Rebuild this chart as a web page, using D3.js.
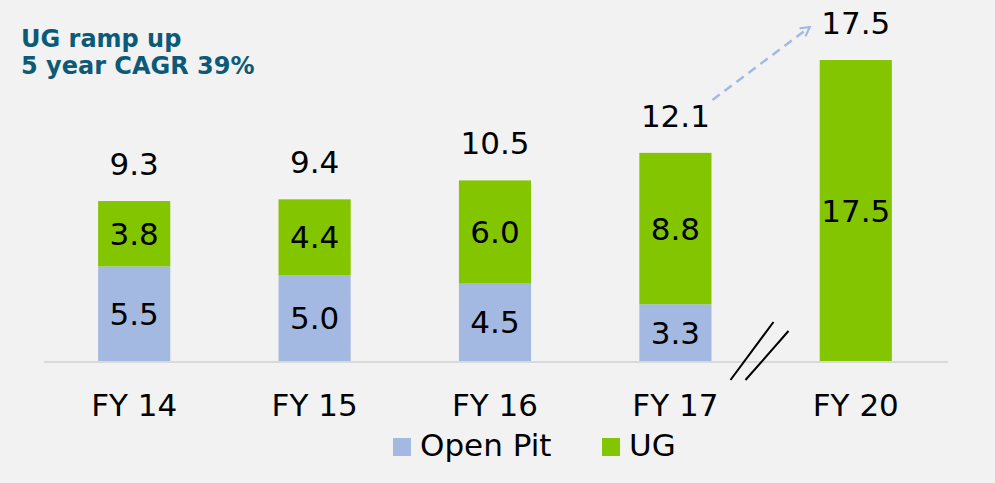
<!DOCTYPE html>
<html>
<head>
<meta charset="utf-8">
<script src="https://cdn.jsdelivr.net/npm/d3@7"></script>
<style>
  body { margin: 0; background: #f2f2f2; }
  svg { display: block; font-family: "DejaVu Sans", Verdana, sans-serif; }
</style>
</head>
<body>
<div id="chart"></div>
<script>
var categories = ["FY 14", "FY 15", "FY 16", "FY 17", "FY 20"];
var openPit = [5.5, 5.0, 4.5, 3.3, 0];
var ug = [3.8, 4.4, 6.0, 8.8, 17.5];
var totals = [9.3, 9.4, 10.5, 12.1, 17.5];
var seriesNames = ["Open Pit", "UG"];
var colors = ["#a4b9e1", "#83c600"];

var svgWidth = 995, svgHeight = 483;
var margin = { top: 60, right: 49, bottom: 122, left: 44 };
var width = svgWidth - margin.left - margin.right;
var height = svgHeight - margin.top - margin.bottom;

var svg = d3.select("#chart").append("svg")
  .attr("width", svgWidth)
  .attr("height", svgHeight);

svg.append("rect").attr("width", svgWidth).attr("height", svgHeight).attr("fill", "#f2f2f2");

var chartGroup = svg.append("g")
  .attr("transform", `translate(${margin.left}, ${margin.top})`);

var x = d3.scaleBand().domain(categories).range([0, width]).paddingInner(0.6).paddingOuter(0.3);
var y = d3.scaleLinear().domain([0, 17.5]).range([height, 0]);

var data = categories.map(function(c, i) {
  return { cat: c, openPit: openPit[i], ug: ug[i], total: totals[i] };
});

var stack = d3.stack().keys(["openPit", "ug"])(data);

// bars
stack.forEach(function(layer, li) {
  chartGroup.selectAll(".bar" + li)
    .data(layer)
    .enter()
    .append("rect")
    .attr("x", d => x(d.data.cat))
    .attr("y", d => y(d[1]))
    .attr("width", x.bandwidth())
    .attr("height", d => y(d[0]) - y(d[1]))
    .attr("fill", colors[li]);

  // segment labels
  chartGroup.selectAll(".lab" + li)
    .data(layer.filter(d => d[1] - d[0] > 0))
    .enter()
    .append("text")
    .attr("x", d => x(d.data.cat) + x.bandwidth() / 2)
    .attr("y", d => (y(d[0]) + y(d[1])) / 2)
    .attr("dy", "0.36em")
    .attr("text-anchor", "middle")
    .attr("font-size", "31px")
    .attr("fill", "#000")
    .text(d => (d[1] - d[0]).toFixed(1));
});

// total labels
chartGroup.selectAll(".total")
  .data(data)
  .enter()
  .append("text")
  .attr("x", d => x(d.cat) + x.bandwidth() / 2)
  .attr("y", d => y(d.total) - 26)
  .attr("text-anchor", "middle")
  .attr("font-size", "31px")
  .attr("fill", "#000")
  .text(d => d.total.toFixed(1));

// baseline
chartGroup.append("line")
  .attr("x1", 0).attr("x2", width + 2)
  .attr("y1", height + 1).attr("y2", height + 1)
  .attr("stroke", "#d9d9d9")
  .attr("stroke-width", 2);

// category axis
var bottomAxis = d3.axisBottom(x).tickSize(0).tickPadding(33);
var xAxis = chartGroup.append("g")
  .attr("transform", `translate(0, ${height})`)
  .call(bottomAxis);
xAxis.select(".domain").remove();
xAxis.selectAll("text")
  .attr("font-size", "31px")
  .attr("font-family", "DejaVu Sans, Verdana, sans-serif")
  .attr("fill", "#000");

// axis break marks
var bx = x("FY 17") + x.bandwidth() + 46;
[0, 15].forEach(function(off) {
  chartGroup.append("line")
    .attr("x1", bx - 27 + off).attr("y1", height + 19)
    .attr("x2", bx + 16 + off).attr("y2", height - 39 + off * 0.6)
    .attr("stroke", "#000")
    .attr("stroke-width", 2);
});

// dashed growth arrow
svg.append("defs").append("marker")
  .attr("id", "arrow")
  .attr("viewBox", "0 0 12 12")
  .attr("refX", 10).attr("refY", 6)
  .attr("markerWidth", 12).attr("markerHeight", 12)
  .attr("markerUnits", "userSpaceOnUse")
  .attr("orient", "auto")
  .append("path")
  .attr("d", "M1,1 L10,6 L1,11")
  .attr("fill", "none")
  .attr("stroke", "#a4b9e1")
  .attr("stroke-width", 2.2);

chartGroup.append("line")
  .attr("x1", x("FY 17") + x.bandwidth() + 1)
  .attr("y1", y(totals[3]) - 53)
  .attr("x2", x("FY 20") - 10)
  .attr("y2", y(totals[4]) - 33)
  .attr("stroke", "#a4b9e1")
  .attr("stroke-width", 2.5)
  .attr("stroke-dasharray", "9,6")
  .attr("marker-end", "url(#arrow)");

// title
var title = svg.append("text")
  .attr("font-size", "24px")
  .attr("font-weight", "bold")
  .attr("fill", "#0b5a78");
title.append("tspan").attr("x", 21).attr("y", 47).text("UG ramp up");
title.append("tspan").attr("x", 21).attr("y", 74).text("5 year CAGR 39%");

// legend
var legend = svg.append("g").attr("transform", "translate(393, 438)");
var legendX = [0, 209];
seriesNames.forEach(function(name, i) {
  var g = legend.append("g").attr("transform", `translate(${legendX[i]}, 0)`);
  g.append("rect").attr("width", 18).attr("height", 18).attr("fill", colors[i]);
  g.append("text")
    .attr("x", 27).attr("y", 18)
    .attr("font-size", "31px")
    .attr("fill", "#000")
    .text(name);
});
</script>
</body>
</html>
